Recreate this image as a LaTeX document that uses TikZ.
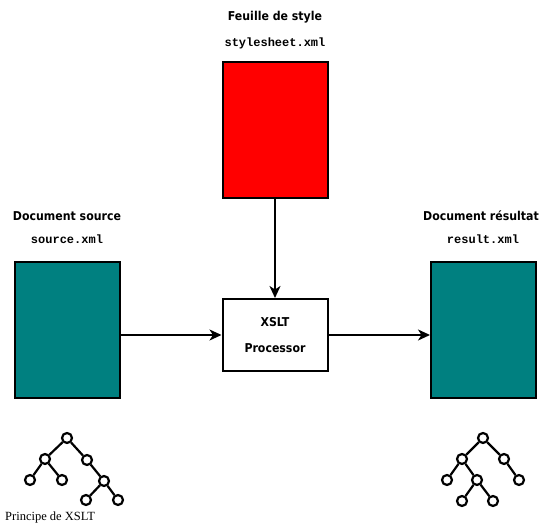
\documentclass[tikz,border=0pt]{standalone}
\usepackage{fontspec}
\usetikzlibrary{arrows.meta,positioning}
\newfontfamily\titlefont{DejaVu Sans Condensed}
\newfontfamily\filefont{Liberation Mono}
\newfontfamily\captfont{Liberation Serif}
\definecolor{docteal}{HTML}{008080}
\definecolor{xslred}{HTML}{FF0000}
\tikzstyle{doc}=[draw,line width=2pt,minimum width=105pt,minimum height=136pt,inner sep=0pt]
\tikzstyle{title}=[font=\titlefont\bfseries\fontsize{12.2}{14}\selectfont,inner sep=1pt]
\tikzstyle{file}=[font=\filefont\bfseries\fontsize{12}{14}\selectfont,inner sep=1pt]
\tikzstyle{leaf}=[draw,circle,line width=2.2pt,minimum size=10pt,inner sep=0pt]
\tikzstyle{branch}=[line width=2.2pt]
\tikzstyle{flow}=[draw,line width=1.8pt,-{Stealth[length=12pt,width=11pt,inset=3.5pt]}]

\begin{document}
\begin{tikzpicture}[x=1pt,y=-1pt]
  \useasboundingbox (0,0) rectangle (552,526);

  % boxes
  \node[doc,fill=xslred]   (sheet) at (275,130.5) {};
  \node[doc,fill=docteal]  (src)   at (67,330)    {};
  \node[doc,fill=docteal]  (res)   at (483.5,330) {};
  \node[draw,line width=2pt,fill=white,minimum width=105pt,minimum height=72pt,
        align=center,font=\titlefont\bfseries\fontsize{12.2}{26}\selectfont]
        (proc) at (275,335) {XSLT\\Processor};

  % labels
  \node[file]  (sheetf) at (275,43)  {stylesheet.xml};
  \node[title] (sheett) at (275,17)  {Feuille de style};
  \node[file]  (srcf)   at (67,239)  {source.xml};
  \node[title] (srct)   at (67,216)  {Document source};
  \node[file]  (resf)   at (483,239) {result.xml};
  \node[title] (rest)   at (481,216) {Document résultat};

  % arrows
  \path[flow] (sheet.south) -- (proc.north);
  \path[flow] (src.east |- proc.west) -- (proc.west);
  \path[flow] (proc.east) -- (res.west |- proc.east);

  % source tree
  \node[leaf] (s1) at (67,438)  {};
  \node[leaf] (s2) at (45,459)  {};
  \node[leaf] (s3) at (87,460)  {};
  \node[leaf] (s4) at (30,480)  {};
  \node[leaf] (s5) at (62,480)  {};
  \node[leaf] (s6) at (104,481) {};
  \node[leaf] (s7) at (86,500)  {};
  \node[leaf] (s8) at (118,500) {};
  \draw[branch] (s1) -- (s2) (s1) -- (s3) (s2) -- (s4) (s2) -- (s5)
    (s3) -- (s6) (s6) -- (s7) (s6) -- (s8);

  % result tree
  \node[leaf] (r1) at (483,438) {};
  \node[leaf] (r2) at (462,459) {};
  \node[leaf] (r3) at (504,459) {};
  \node[leaf] (r4) at (447,480) {};
  \node[leaf] (r5) at (477,480) {};
  \node[leaf] (r6) at (519,480) {};
  \node[leaf] (r7) at (462,501) {};
  \node[leaf] (r8) at (493,501) {};
  \draw[branch] (r1) -- (r2) (r1) -- (r3) (r2) -- (r4) (r2) -- (r5)
    (r3) -- (r6) (r5) -- (r7) (r5) -- (r8);

  \node[anchor=west,inner sep=0pt,font=\captfont\fontsize{12.5}{14}\selectfont]
    (capt) at (5,517) {Principe de XSLT};
\end{tikzpicture}
\end{document}
